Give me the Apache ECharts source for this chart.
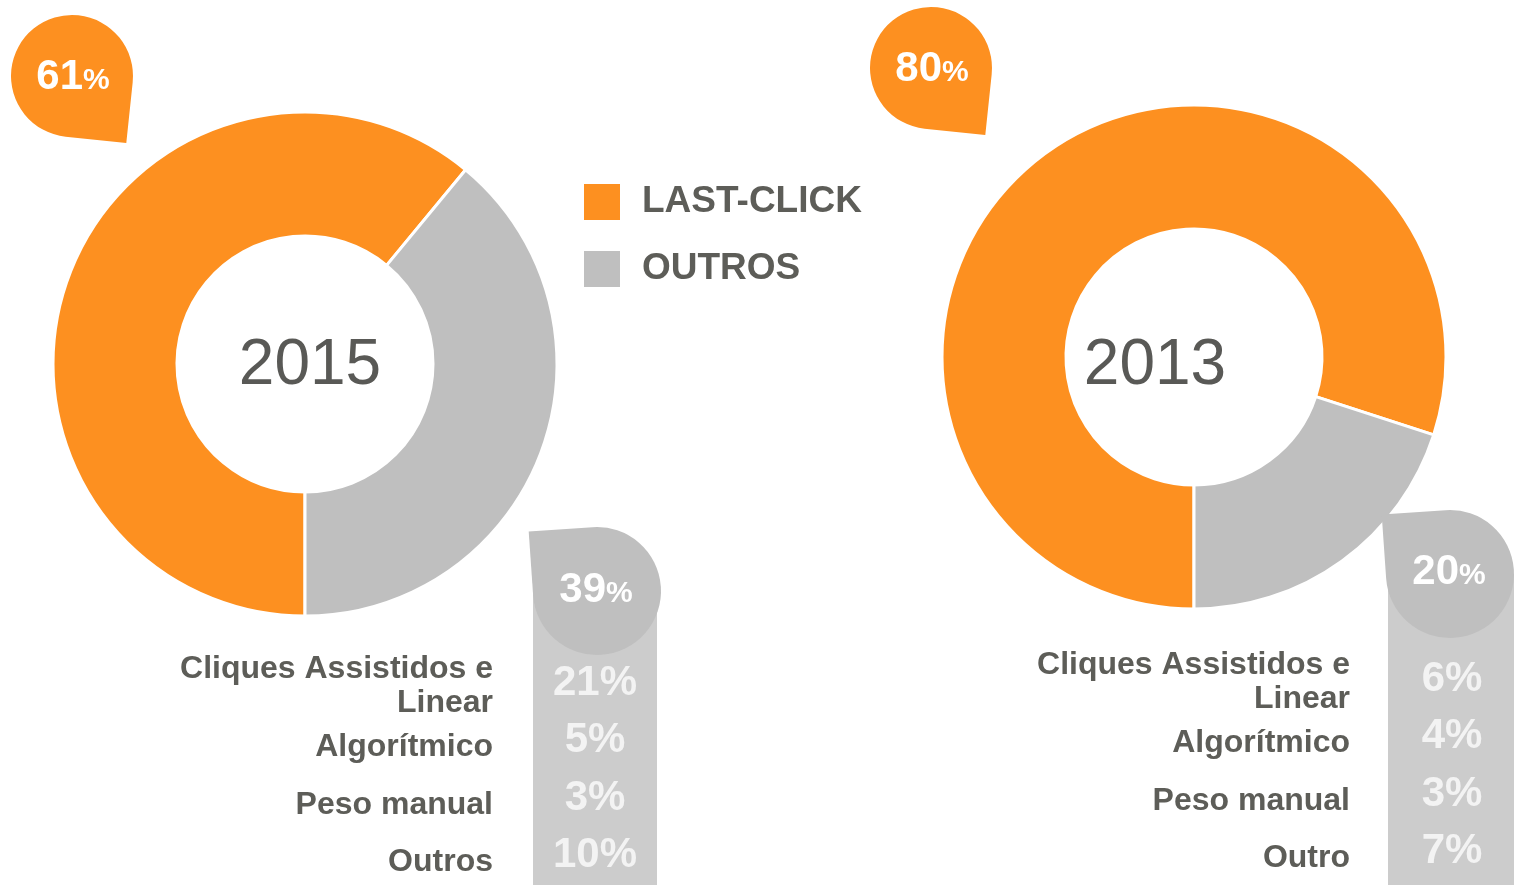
<!DOCTYPE html>
<html>
<head>
<meta charset="utf-8">
<script src="https://cdn.jsdelivr.net/npm/echarts@6/dist/echarts.min.js"></script>
<style>
  html, body { margin: 0; padding: 0; background: #fff; }
  #chart { width: 1524px; height: 885px; }
</style>
</head>
<body>
<div id="chart"></div>
<script>
  // dados
  const years = ['2015', '2013']
  const seriesNames = ['LAST-CLICK', 'OUTROS']
  const lastClick = [61, 80]
  const outros = [39, 20]
  const labels2015 = ['Cliques Assistidos e\nLinear', 'Algorítmico', 'Peso manual', 'Outros']
  const values2015 = [21, 5, 3, 10]
  const labels2013 = ['Cliques Assistidos e\nLinear', 'Algorítmico', 'Peso manual', 'Outro']
  const values2013 = [6, 4, 3, 7]

  const ORANGE = '#fd9020'
  const GRAY = '#bfbfbf'
  const COLUMN = '#cccccc'
  const TEXT = '#5d5d58'
  const FONT = '"Liberation Sans", Arial, sans-serif'

  // layout de cada bloco (2015 à esquerda, 2013 à direita)
  const blocks = [
    {
      center: [305, 364], yearPos: [310, 366],
      orangeBubble: {cx: 72, cy: 76, r: 61, rot: -6, text: [73, 75]},
      grayBubble: {cx: 597, cy: 591, r: 64, rot: 4, text: [596, 588]},
      column: {x: 533, y: 591, w: 124},
      labelX: 493, valueX: 595, rowY: 683,
      labels: labels2015, values: values2015
    },
    {
      center: [1194, 357], yearPos: [1155, 366],
      orangeBubble: {cx: 931, cy: 68, r: 61, rot: -6, text: [932, 67]},
      grayBubble: {cx: 1450, cy: 574, r: 64, rot: 4, text: [1449, 570]},
      column: {x: 1388, y: 574, w: 126},
      labelX: 1350, valueX: 1452, rowY: 679,
      labels: labels2013, values: values2013
    }
  ]
  const rowGap = 57.5

  function bubble (b, color, sharp) {
    // sharp: 'br' = ponta embaixo à direita, 'tl' = ponta em cima à esquerda
    const r = b.r
    const corners = sharp === 'br' ? [r, r, 0, r] : [0, r, r, r]
    return {
      type: 'rect',
      x: b.cx,
      y: b.cy,
      rotation: b.rot * Math.PI / 180,
      shape: {x: -r, y: -r, width: 2 * r, height: 2 * r, r: corners},
      style: {fill: color},
      z: 5
    }
  }

  function pctText (pos, value) {
    return {
      type: 'text',
      x: pos[0],
      y: pos[1],
      z: 10,
      style: {
        text: '{n|' + value + '}{p|%}',
        align: 'center',
        verticalAlign: 'middle',
        fill: '#fff',
        rich: {
          n: {fontSize: 42, fontWeight: 'bold', fontFamily: FONT, color: '#fff', verticalAlign: 'bottom', lineHeight: 46},
          p: {fontSize: 30, fontWeight: 'bold', fontFamily: FONT, color: '#fff', verticalAlign: 'bottom', lineHeight: 46, padding: [0, 0, 2, 0]}
        }
      }
    }
  }

  const graphics = []
  blocks.forEach((b, i) => {
    graphics.push({
      type: 'text', x: b.yearPos[0], y: b.yearPos[1], z: 10,
      style: {text: years[i], align: 'center', verticalAlign: 'middle', fontSize: 64, fontFamily: FONT, fill: '#595956'}
    })
    graphics.push({
      type: 'rect', z: 4,
      shape: {x: b.column.x, y: b.column.y, width: b.column.w, height: 885 - b.column.y + 10},
      style: {fill: COLUMN}
    })
    graphics.push(bubble(b.orangeBubble, ORANGE, 'br'))
    graphics.push(bubble(b.grayBubble, GRAY, 'tl'))
    graphics.push(pctText(b.orangeBubble.text, lastClick[i]))
    graphics.push(pctText(b.grayBubble.text, outros[i]))
    b.labels.forEach((lab, k) => {
      const y = b.rowY + k * rowGap
      const off = lab.indexOf('\n') >= 0 ? 3 : 7
      graphics.push({
        type: 'text', x: b.labelX, y: y + off, z: 10,
        style: {text: lab, align: 'right', verticalAlign: 'middle', fontSize: 32, fontWeight: 'bold', lineHeight: 34, fontFamily: FONT, fill: TEXT}
      })
      graphics.push({
        type: 'text', x: b.valueX, y: y, z: 10,
        style: {text: b.values[k] + '%', align: 'center', verticalAlign: 'middle', fontSize: 42, fontWeight: 'bold', fontFamily: FONT, fill: '#f3f3f3'}
      })
    })
  })

  const chart = echarts.init(document.getElementById('chart'), null, {renderer: 'canvas'})
  chart.setOption({
    animation: false,
    legend: {
      orient: 'vertical',
      left: 582,
      top: 182,
      padding: 0,
      itemWidth: 38,
      itemHeight: 38,
      itemGap: 27,
      icon: 'rect',
      selectedMode: false,
      data: seriesNames,
      textStyle: {fontSize: 37, fontWeight: 'bold', color: TEXT, fontFamily: FONT, padding: [0, 0, 0, 16]}
    },
    series: blocks.map((b, i) => ({
      type: 'pie',
      name: years[i],
      center: b.center,
      radius: [128, 252],
      startAngle: 270,
      clockwise: true,
      label: {show: false},
      labelLine: {show: false},
      emphasis: {disabled: true},
      itemStyle: {borderColor: '#fff', borderWidth: 3},
      data: [
        {name: seriesNames[0], value: lastClick[i], itemStyle: {color: ORANGE}},
        {name: seriesNames[1], value: outros[i], itemStyle: {color: GRAY}}
      ]
    })),
    graphic: graphics
  })
</script>
</body>
</html>
